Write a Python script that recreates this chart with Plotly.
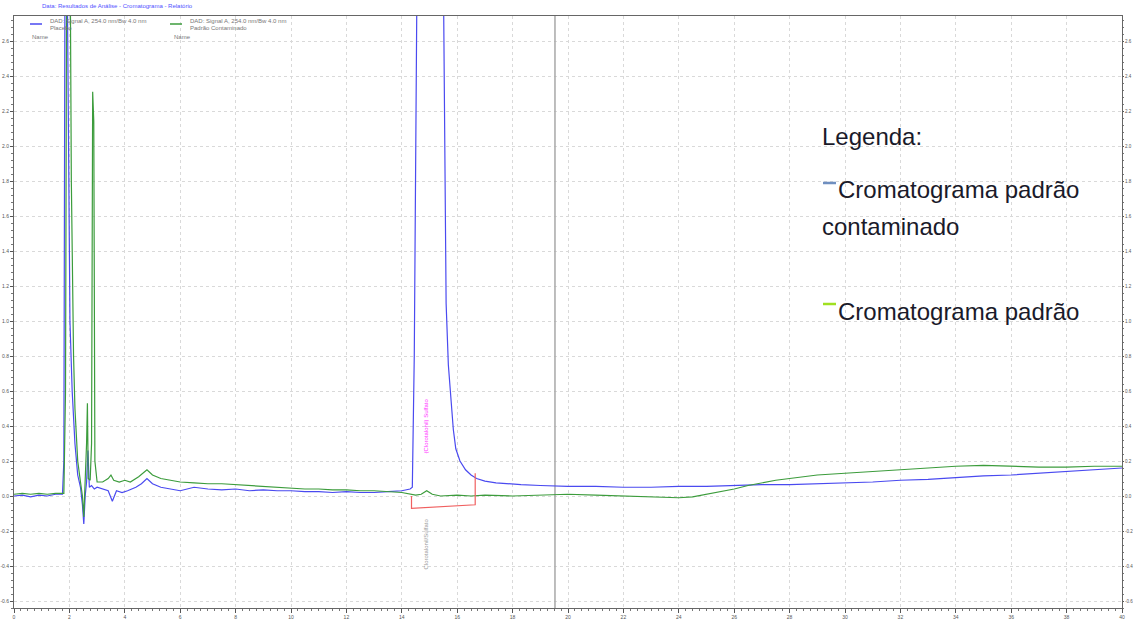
import plotly.graph_objects as go

# ---------------- data ----------------
blue_t = [0, 0.3, 0.6, 0.9, 1.2, 1.5, 1.75, 1.8, 1.84, 1.92, 1.97, 2.02, 2.1, 2.2, 2.3, 2.4,
          2.47, 2.52, 2.57, 2.62, 2.67, 2.72, 2.8, 2.9, 3.0, 3.2, 3.4, 3.55, 3.7, 3.9, 4.1, 4.4,
          4.6, 4.8, 5.0, 5.3, 5.6, 6.0, 6.5, 7.0, 7.5, 8.0, 8.5, 9.0, 9.5, 10.0, 10.5, 11.0,
          11.5, 12.0, 12.5, 13.0, 13.5, 14.0, 14.3, 14.38, 14.45, 14.55, 15.5, 15.55, 15.6,
          15.68, 15.77, 15.86, 15.95, 16.1, 16.3, 16.5, 16.7, 17.0, 17.4, 17.8, 18.3, 19, 20,
          21, 22, 23, 24, 25, 26, 27, 28, 29, 30, 31, 32, 33, 34, 35, 36, 37, 38, 39, 40]
blue_y = [0.0, 0.005, -0.005, 0.005, 0.0, 0.01, 0.01, 0.2, 3.0, 3.0, 2.0, 1.0, 0.6, 0.3, 0.12, 0.05,
          -0.05, -0.16, 0.0, 0.08, 0.26, 0.05, 0.06, 0.04, 0.05, 0.04, 0.03, -0.03, 0.03, 0.02, 0.03, 0.05,
          0.07, 0.1, 0.07, 0.05, 0.04, 0.03, 0.05, 0.04, 0.035, 0.04, 0.03, 0.035, 0.03, 0.03, 0.025, 0.025,
          0.02, 0.025, 0.02, 0.02, 0.025, 0.03, 0.04, 0.05, 0.8, 3.0, 3.0, 2.2, 1.1,
          0.75, 0.55, 0.38, 0.27, 0.2, 0.15, 0.12, 0.1, 0.085, 0.075, 0.07, 0.065, 0.06, 0.055,
          0.055, 0.05, 0.05, 0.055, 0.055, 0.06, 0.065, 0.065, 0.07, 0.075, 0.08, 0.09, 0.095, 0.105, 0.115,
          0.12, 0.13, 0.14, 0.15, 0.16]

green_t = [0, 0.3, 0.6, 0.9, 1.2, 1.5, 1.8, 1.86, 1.9, 2.03, 2.07, 2.1, 2.15, 2.2, 2.3, 2.4, 2.47,
           2.52, 2.57, 2.62, 2.65, 2.68, 2.75, 2.8, 2.84, 2.88, 2.92, 3.0, 3.2, 3.4, 3.5, 3.6, 3.8,
           4.0, 4.2, 4.5, 4.8, 5.0, 5.3, 5.6, 6.0, 6.5, 7.0, 7.5, 8.0, 8.5, 9.0, 9.5, 10, 10.5, 11,
           11.5, 12, 12.5, 13, 13.5, 14, 14.5, 14.7, 14.9, 15.1, 15.4, 16, 16.5, 17, 18, 19, 20, 21,
           22, 23, 24, 24.5, 25, 25.5, 26, 26.5, 27, 27.5, 28, 29, 30, 31, 32, 33, 34, 35, 36, 37,
           38, 39, 40]
green_y = [0.01, 0.015, 0.01, 0.015, 0.01, 0.015, 0.015, 0.6, 3.0, 3.0, 1.8, 1.27, 0.8, 0.5, 0.2, 0.08, 0.0,
           -0.12, 0.05, 0.3, 0.53, 0.1, 0.09, 0.3, 2.31, 2.14, 0.2, 0.08, 0.08, 0.1, 0.12, 0.09, 0.08,
           0.09, 0.08, 0.11, 0.15, 0.12, 0.1, 0.09, 0.08, 0.075, 0.07, 0.07, 0.065, 0.06, 0.055, 0.05, 0.045, 0.04, 0.04,
           0.035, 0.035, 0.03, 0.03, 0.025, 0.02, 0.005, 0.01, 0.03, 0.01, 0.0, 0.005, 0.0, 0.005, 0.0, 0.005, 0.01, 0.005,
           0.0, -0.005, -0.01, -0.005, 0.01, 0.025, 0.04, 0.06, 0.075, 0.09, 0.1, 0.12, 0.13, 0.14, 0.15, 0.16, 0.17, 0.175, 0.17, 0.165,
           0.165, 0.17, 0.17]

integ_t = [14.35, 14.35, 16.65, 16.65]
integ_y = [0.0, -0.07, -0.05, 0.13]

cursor_t = 19.53
x_ticks = list(range(0, 41, 2))
y_ticks = [round(-0.6 + 0.2 * i, 1) for i in range(17)]
y_labels = [f"{v:.1f}" for v in y_ticks]

legend_title = "Legenda:"
legend_blue = ["Cromatograma padrão", "contaminado"]
legend_green = "Cromatograma padrão"

# ---------------- figure ----------------
L, R, T, B = 14, 11, 16, 14
W, H = 1133, 622
PW, PH = W - L - R, H - T - B


def px(x):
    return (x - L) / PW


def py(y):
    return (H - B - y) / PH


fig = go.Figure()
fig.add_trace(go.Scatter(x=[cursor_t, cursor_t], y=[-1, 4], mode="lines",
                         line=dict(color="#a8a8a8", width=1.5), showlegend=False, hoverinfo="skip"))
fig.add_trace(go.Scatter(x=blue_t, y=blue_y, mode="lines",
                         line=dict(color="#4a4af0", width=1.2), showlegend=False))
fig.add_trace(go.Scatter(x=green_t, y=green_y, mode="lines",
                         line=dict(color="#3c9c3c", width=1.2), showlegend=False))
fig.add_trace(go.Scatter(x=integ_t, y=integ_y, mode="lines",
                         line=dict(color="#f06060", width=1.2), showlegend=False))
# invisible trace to activate right axis
fig.add_trace(go.Scatter(x=[0], y=[0], yaxis="y2", mode="markers",
                         marker=dict(opacity=0), showlegend=False, hoverinfo="skip"))

yr = [-0.64, 2.743]
tickfont = dict(size=5, color="#555555", family="Arial")
fig.update_layout(
    width=W, height=H,
    margin=dict(l=L, r=R, t=T, b=B, pad=0, autoexpand=False),
    plot_bgcolor="white", paper_bgcolor="white",
    xaxis=dict(range=[0, 40], tickvals=x_ticks, ticks="outside", ticklen=4, tickcolor="#555",
               showline=True, linecolor="#666", linewidth=1, mirror=True, automargin=False,
               showgrid=True, gridcolor="#d9d9d9", griddash="dot", gridwidth=1,
               zeroline=False, tickfont=tickfont,
               minor=dict(dtick=0.25, ticks="outside", ticklen=2, tickcolor="#777", showgrid=False)),
    yaxis=dict(range=yr, tickvals=y_ticks, ticktext=y_labels, ticks="outside", ticklen=3, tickcolor="#555",
               showline=True, linecolor="#666", linewidth=1, automargin=False,
               showgrid=True, gridcolor="#d9d9d9", griddash="dot", gridwidth=1,
               zeroline=False, tickfont=tickfont,
               minor=dict(dtick=0.04, ticks="outside", ticklen=2, tickcolor="#777", showgrid=False)),
    yaxis2=dict(range=yr, overlaying="y", side="right", tickvals=y_ticks, ticktext=y_labels,
                ticks="outside", ticklen=1, tickcolor="#555", automargin=False,
                showline=True, linecolor="#666", linewidth=1, showgrid=False, zeroline=False,
                tickfont=dict(size=4.5, color="#555555", family="Arial"),
                minor=dict(dtick=0.04, ticks="outside", ticklen=1, tickcolor="#777")),
)

ann = []
# header text
ann.append(dict(x=px(40), y=py(6), xref="paper", yref="paper", xanchor="left", yanchor="middle",
                text="Data: Resultados de Análise - Cromatograma - Relatório", showarrow=False,
                font=dict(size=6, color="#5050ff", family="Arial")))
# small in-plot legend texts
small = dict(size=6, color="#777777", family="Arial")
ann += [
    dict(x=px(48), y=py(21), text="DAD: Signal A, 254.0 nm/Bw 4.0 nm", font=small),
    dict(x=px(48), y=py(28), text="Placebo", font=small),
    dict(x=px(30), y=py(37), text="Name", font=small),
    dict(x=px(188), y=py(21), text="DAD: Signal A, 254.0 nm/Bw 4.0 nm", font=small),
    dict(x=px(188), y=py(28), text="Padrão Contaminado", font=small),
    dict(x=px(172), y=py(37), text="Name", font=small),
]
for a in ann[1:]:
    a.update(xref="paper", yref="paper", xanchor="left", yanchor="middle", showarrow=False)

# rotated peak labels
ann.append(dict(x=px(425), y=py(456), xref="paper", yref="paper", text="(Clorotalonil) Sulfato",
                textangle=-90, showarrow=False, font=dict(size=6, color="#ff30ff", family="Arial")))
ann.append(dict(x=px(425), y=py(572), xref="paper", yref="paper", text="Clorotalonil/Sulfato",
                textangle=-90, showarrow=False, font=dict(size=6, color="#999999", family="Arial")))

big = dict(size=24, color="#1a1a2a", family="Liberation Sans, Arial")
ann += [
    dict(x=px(820), y=py(136), text=legend_title, font=big),
    dict(x=px(836), y=py(189), text=legend_blue[0], font=big),
    dict(x=px(820), y=py(226), text=legend_blue[1], font=big),
    dict(x=px(836), y=py(311), text=legend_green, font=big),
]
for a in ann[-4:]:
    a.update(xref="paper", yref="paper", xanchor="left", yanchor="middle", showarrow=False)
fig.update_layout(annotations=ann)

shapes = [
    dict(type="line", xref="paper", yref="paper", x0=px(30), x1=px(42), y0=py(24), y1=py(24),
         line=dict(color="#4a4af0", width=1.5)),
    dict(type="line", xref="paper", yref="paper", x0=px(170), x1=px(182), y0=py(24), y1=py(24),
         line=dict(color="#3c9c3c", width=1.5)),
    dict(type="line", xref="paper", yref="paper", x0=px(823), x1=px(836), y0=py(183), y1=py(183),
         line=dict(color="#6f8fc0", width=2.5)),
    dict(type="line", xref="paper", yref="paper", x0=px(823), x1=px(836), y0=py(304), y1=py(304),
         line=dict(color="#a0e020", width=2.5)),
]
fig.update_layout(shapes=shapes)

fig.write_html("out.html")
